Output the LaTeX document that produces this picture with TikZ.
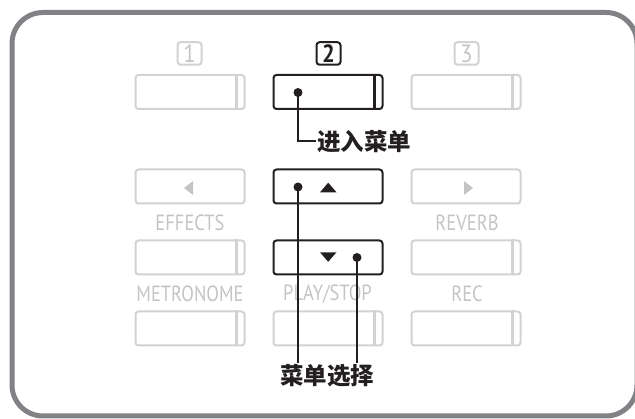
\documentclass[tikz,border=0pt]{standalone}
\usepackage{fontspec}
\setmainfont{PT Sans}
\newfontfamily\lblfont[FakeStretch=0.84]{PT Sans}
\newfontfamily\numfont[FakeStretch=0.9]{PT Sans}
\newfontfamily\cjk{Noto Sans CJK SC}
\definecolor{framegray}{HTML}{808285}
\definecolor{lgray}{HTML}{D2D2D2}
\definecolor{tgray}{HTML}{C4C4C4}
\definecolor{ink}{HTML}{231F20}
\tikzset{
  gbtn/.style={draw=lgray, line width=2pt, rounded corners=3pt, minimum width=109pt, minimum height=34pt, inner sep=0pt},
  bbtn/.style={draw=ink, line width=2pt, rounded corners=3pt, minimum width=109pt, minimum height=34pt, inner sep=0pt},
  gbar/.style={draw=lgray, line width=2.6pt},
  bbar/.style={draw=ink, line width=2.6pt},
  numg/.style={draw=lgray, text=tgray, line width=2pt, rounded corners=3pt, minimum width=24pt, minimum height=22.5pt, inner sep=0pt, font=\fontsize{25}{25}\numfont},
  numb/.style={draw=ink, text=ink, line width=2pt, rounded corners=3pt, minimum width=24pt, minimum height=22.5pt, inner sep=0pt, font=\fontsize{25}{25}\numfont\bfseries},
  lbl/.style={text=tgray, inner sep=0pt, font=\fontsize{22}{22}\lblfont},
  dot/.style={circle, fill=ink, minimum size=9pt, inner sep=0pt},
  conn/.style={draw=ink, line width=2pt},
  cjklbl/.style={text=ink, inner sep=1pt, font=\fontsize{23.5}{23.5}\selectfont\cjk\bfseries}
}
\begin{document}
\begin{tikzpicture}[x=1pt,y=-1pt]
\useasboundingbox (0,0) rectangle (635,419);
% frame
\draw[framegray, line width=5pt, rounded corners=31pt] (12,12.5) rectangle (637,416);
% number boxes
\node[numg] (n1) at (189.5,53.5) {1};
\node[numb] (n2) at (328.5,53.5) {2};
\node[numg] (n3) at (466.5,53.5) {3};
% row 1
\node[gbtn] (b11) at (190,92) {};
\node[bbtn] (b12) at (328,92) {};
\node[gbtn] (b13) at (466,92) {};
% row 2
\node[gbtn] (b21) at (190,186.5) {};
\node[bbtn] (b22) at (328,186.5) {};
\node[gbtn] (b23) at (466,186.5) {};
% row 3
\node[gbtn] (b31) at (190,257.5) {};
\node[bbtn] (b32) at (328,257.5) {};
\node[gbtn] (b33) at (466,257.5) {};
% row 4
\node[gbtn] (b41) at (190,328.5) {};
\node[gbtn] (b42) at (328,328.5) {};
\node[gbtn] (b43) at (466,328.5) {};
% bars
\foreach \b in {b11,b13,b31,b33,b41,b42,b43}
  \draw[gbar] ([xshift=-9pt]\b.north east) -- ([xshift=-9pt]\b.south east);
\draw[bbar] ([xshift=-9pt]b12.north east) -- ([xshift=-9pt]b12.south east);
% labels
\node[lbl] (l1) at (190,222.5) {EFFECTS};
\node[lbl] (l2) at (467,222.5) {REVERB};
\node[lbl] (l3) at (190,294) {METRONOME};
\node[lbl] (l4) at (327.5,294) {PLAY/STOP};
\node[lbl] (l5) at (467,294) {REC};
% arrows
\fill[tgray] (193,181) -- (193,195) -- (184,188) -- cycle;
\fill[tgray] (464,181) -- (464,195) -- (473,188) -- cycle;
\fill[ink] (320,192.3) -- (336.5,192.3) -- (328.2,182.7) -- cycle;
\fill[ink] (320,252.3) -- (336.5,252.3) -- (328.2,261.8) -- cycle;
% dots
\node[dot] (d1) at (298,92.5) {};
\node[dot] (d2) at (298,187) {};
\node[dot] (d3) at (357,257.5) {};
% text labels
\node[cjklbl, anchor=west] (t1) at (316,141.5) {进入菜单};
\node[cjklbl, anchor=north] (t2) at (327,363) {菜单选择};
% connectors
\draw[conn] (d1.center) |- (t1.west);
\draw[conn] (d2.center) -- (d2.center |- t2.north);
\draw[conn] (d3.center) -- (d3.center |- t2.north);
\end{tikzpicture}
\end{document}
